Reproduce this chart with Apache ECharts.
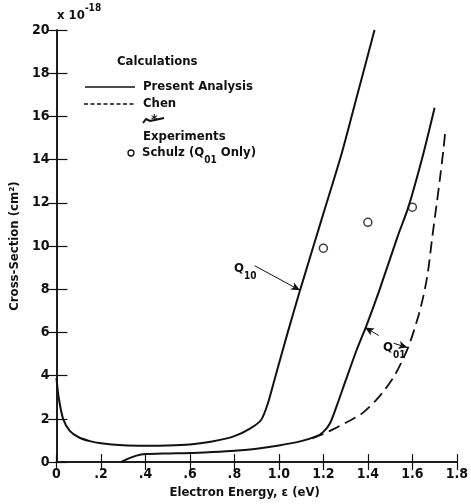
<!DOCTYPE html>
<html>
<head>
<meta charset="utf-8">
<script src="https://cdn.jsdelivr.net/npm/echarts@6/dist/echarts.min.js"></script>
<style>
html,body{margin:0;padding:0;background:#fff;}
#c{width:471px;height:504px;}
</style>
</head>
<body>
<div id="c"></div>
<script>
// ---- data (energy in eV, cross-section in 1e-18 cm^2) ----
const xTickLabels = ['0', '.2', '.4', '.6', '.8', '1.0', '1.2', '1.4', '1.6', '1.8'];
const yTickLabels = ['0', '2', '4', '6', '8', '10', '12', '14', '16', '18', '20'];

const q10Present = [
  [0, 3.9], [0.01, 3.0], [0.03, 2.0], [0.06, 1.45], [0.1, 1.15], [0.15, 0.97],
  [0.2, 0.87], [0.3, 0.78], [0.4, 0.76], [0.5, 0.77], [0.6, 0.82], [0.7, 0.95],
  [0.8, 1.2], [0.87, 1.55], [0.92, 1.95], [0.95, 2.7], [0.98, 3.8], [1.037, 5.9],
  [1.095, 7.95], [1.2, 11.5], [1.28, 14.2], [1.35, 16.9], [1.43, 20]
];
const q01Present = [
  [0.29, 0], [0.32, 0.15], [0.36, 0.3], [0.4, 0.37], [0.5, 0.4], [0.6, 0.42],
  [0.7, 0.47], [0.8, 0.53], [0.9, 0.62], [1.0, 0.77], [1.1, 0.97], [1.17, 1.2],
  [1.2, 1.4], [1.23, 1.8], [1.26, 2.6], [1.3, 3.77], [1.35, 5.2], [1.392, 6.27],
  [1.45, 7.9], [1.534, 10.45], [1.582, 11.8], [1.65, 14.3], [1.70, 16.4]
];
const q01Chen = [
  [1.15, 1.1], [1.2, 1.3], [1.25, 1.55], [1.3, 1.82], [1.35, 2.1], [1.38, 2.3],
  [1.436, 2.86], [1.48, 3.4], [1.525, 4.1], [1.583, 5.36], [1.636, 7.1],
  [1.667, 8.6], [1.69, 10.45], [1.71, 12.0], [1.725, 13.2], [1.74, 14.5], [1.748, 15.3]
];
const schulzQ01 = [[1.2, 9.9], [1.4, 11.1], [1.6, 11.8]];

// annotation arrows (data coordinates)
const q10Arrow = [[0.891, 9.09], [1.095, 7.95]];
const q01ArrowA = [[1.449, 5.86], [1.387, 6.23]];
const q01ArrowB = [[1.516, 5.5], [1.578, 5.3]];

const FONT = '"DejaVu Sans Condensed", "Liberation Sans Narrow", sans-serif';
const INK = '#111';

const chart = echarts.init(document.getElementById('c'), null, {renderer: 'canvas'});

function arrow(pts) {
  return [{coord: pts[0], symbol: 'none'}, {coord: pts[1], symbol: 'arrow'}];
}

const baseAxisLine = {show: true, lineStyle: {color: INK, width: 1.5}};

// rich text styles for subscripts / superscripts
const richSub = {
  m: {fontFamily: FONT, fontWeight: 'bold', fontSize: 13, lineHeight: 16, verticalAlign: 'top', fill: INK},
  s: {fontFamily: FONT, fontWeight: 'bold', fontSize: 10, lineHeight: 10, padding: [9, 0, 0, 0], verticalAlign: 'top', fill: INK},
  t: {fontFamily: FONT, fontWeight: 'bold', fontSize: 10, lineHeight: 10, padding: [0, 0, 0, 0], verticalAlign: 'top', fill: INK},
  mb: {fontFamily: FONT, fontWeight: 'bold', fontSize: 13, lineHeight: 16, padding: [6, 0, 0, 0], verticalAlign: 'top', fill: INK}
};

function txt(x, y, text, size) {
  return {type: 'text', left: x, top: y, style: {text: text, fill: INK, font: 'bold ' + (size || 13) + 'px ' + FONT}};
}

chart.setOption({
  animation: false,
  backgroundColor: '#fff',
  grid: {left: 56, right: 11, top: 30, bottom: 34},
  xAxis: [
    {
      type: 'value', min: 0, max: 1.8, interval: 0.2, position: 'bottom',
      axisLine: baseAxisLine,
      axisTick: {show: true, inside: true, length: 8, lineStyle: {color: INK, width: 1.2}},
      splitLine: {show: false},
      axisLabel: {
        margin: 5, color: INK, fontFamily: FONT, fontWeight: 'bold', fontSize: 14,
        formatter: v => xTickLabels[Math.round(v / 0.2)]
      },
      name: 'Electron Energy, \u03b5 (eV)',
      nameLocation: 'middle', nameGap: 20,
      nameTextStyle: {color: INK, fontFamily: FONT, fontWeight: 'bold', fontSize: 13, padding: [0, 24, 0, 0]}
    },
    {
      type: 'value', min: 0, max: 1.8, interval: 0.2, position: 'top',
      axisLine: baseAxisLine,
      axisTick: {show: true, inside: true, length: 8, lineStyle: {color: INK, width: 1.2}},
      axisLabel: {show: false}, splitLine: {show: false}
    }
  ],
  yAxis: [
    {
      type: 'value', min: 0, max: 20, interval: 2, position: 'left',
      axisLine: baseAxisLine,
      axisTick: {show: true, inside: true, length: 11, lineStyle: {color: INK, width: 1.2}},
      splitLine: {show: false},
      axisLabel: {
        margin: 7, color: INK, fontFamily: FONT, fontWeight: 'bold', fontSize: 14,
        formatter: v => yTickLabels[Math.round(v / 2)]
      },
      name: 'Cross-Section (cm\u00b2)',
      nameLocation: 'middle', nameGap: 28,
      nameTextStyle: {color: INK, fontFamily: FONT, fontWeight: 'bold', fontSize: 13}
    },
    {
      type: 'value', min: 0, max: 20, interval: 2, position: 'right',
      axisLine: baseAxisLine,
      axisTick: {show: true, inside: true, length: 9, lineStyle: {color: INK, width: 1.2}},
      axisLabel: {show: false}, splitLine: {show: false}
    }
  ],
  series: [
    {
      name: 'Q10 Present', type: 'line', data: q10Present, showSymbol: false, smooth: 0.25,
      lineStyle: {color: INK, width: 2}, silent: true,
      markLine: {
        silent: true, symbolSize: [6, 9], label: {show: false},
        lineStyle: {color: INK, width: 1, type: 'solid'},
        data: [arrow(q10Arrow), arrow(q01ArrowA), arrow(q01ArrowB)]
      }
    },
    {
      name: 'Q01 Present', type: 'line', data: q01Present, showSymbol: false, smooth: 0.25,
      lineStyle: {color: INK, width: 2}, silent: true
    },
    {
      name: 'Q01 Chen', type: 'line', data: q01Chen, showSymbol: false, smooth: 0.3,
      lineStyle: {color: INK, width: 1.8, type: [12, 6]}, silent: true
    },
    {
      name: 'Schulz', type: 'scatter', data: schulzQ01, symbol: 'circle', symbolSize: 8,
      itemStyle: {color: '#fff', borderColor: INK, borderWidth: 1.5}, silent: true
    }
  ],
  graphic: [
    // exponent note
    {type: 'text', left: 57, top: 3, style: {text: '{mb|x 10}{t|-18}', rich: richSub}},
    // legend
    txt(117, 55, 'Calculations'),
    {type: 'line', shape: {x1: 85, y1: 87, x2: 135, y2: 87}, style: {stroke: INK, lineWidth: 1.5}},
    txt(143, 80, 'Present Analysis'),
    {type: 'line', shape: {x1: 84, y1: 104, x2: 134, y2: 104}, style: {stroke: INK, lineWidth: 1.5, lineDash: [4, 2.5]}},
    txt(143, 97, 'Chen'),
    {type: 'polyline', shape: {points: [[143, 123], [146, 119], [150, 121], [155, 120], [164, 118]]}, style: {stroke: INK, lineWidth: 2, fill: null}},
    txt(151, 113, '*', 14),
    txt(143, 130, 'Experiments'),
    {type: 'circle', shape: {cx: 131, cy: 153, r: 3}, style: {stroke: INK, lineWidth: 1.3, fill: '#fff'}},
    {type: 'text', left: 142, top: 146, style: {text: '{m|Schulz (Q}{s|01}{m| Only)}', rich: richSub}},
    // curve labels
    {type: 'text', left: 234, top: 262, style: {text: '{m|Q}{s|10}', rich: richSub}},
    {type: 'text', left: 383, top: 341, style: {text: '{m|Q}{s|01}', rich: richSub}}
  ]
});
</script>
</body>
</html>
